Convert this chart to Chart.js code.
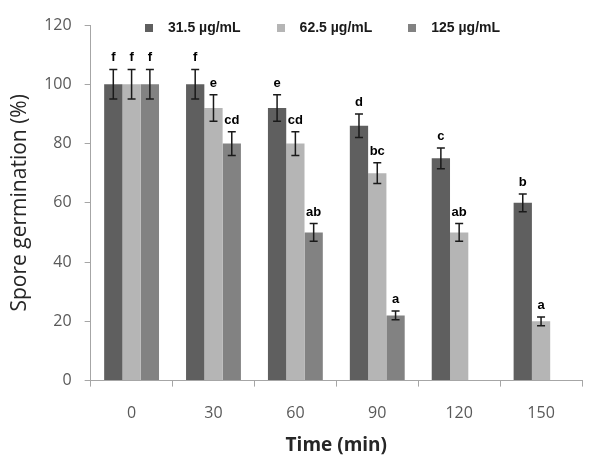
<!DOCTYPE html>
<html>
<head>
<meta charset="utf-8">
<script src="https://cdn.jsdelivr.net/npm/chart.js@4"></script>
<style>
	html, body { margin: 0; padding: 0; background: #fff; }
</style>
</head>
<body>
<canvas id="myChart" width="606" height="475"></canvas>
<script>
"use strict";

// Values
const times = ["0", "30", "60", "90", "120", "150"];
const seriesNames = ["31.5 \u00b5g/mL", "62.5 \u00b5g/mL", "125 \u00b5g/mL"];
const low = [100, 100, 92, 86, 75, 60];
const mid = [100, 92, 80, 70, 50, 20];
const high = [100, 80, 50, 22, null, null];
const lowErr = [5, 5, 4.5, 4, 3.5, 3];
const midErr = [5, 4.5, 4, 3.5, 3, 1.5];
const highErr = [5, 4, 3, 1.5, null, null];
const lowLetters = ["f", "f", "e", "d", "c", "b"];
const midLetters = ["f", "e", "cd", "bc", "ab", "a"];
const highLetters = ["f", "cd", "ab", "a", null, null];
const yTicks = [0, 20, 40, 60, 80, 100, 120];

const colors = ["#5f5f5f", "#b5b5b5", "#828282"];
const axisGrey = "#a6a6a6";
const sans = "'Open Sans', sans-serif";

// little square used as legend marker
function square(color) {
	const c = document.createElement("canvas");
	c.width = 8;
	c.height = 8;
	const g = c.getContext("2d");
	g.fillStyle = color;
	g.fillRect(0, 0, 8, 8);
	return c;
}
const markers = colors.map(square);

// error bars + significance letters
const errorBars = {
	id: "errorBars",
	afterDatasetsDraw(chart) {
		const { ctx } = chart;
		const y = chart.scales.y;
		ctx.save();
		ctx.strokeStyle = "#1a1a1a";
		ctx.lineWidth = 1.5;
		ctx.fillStyle = "#000";
		ctx.font = "bold 13px 'Liberation Sans', Arial, sans-serif";
		ctx.textAlign = "center";
		ctx.textBaseline = "alphabetic";
		chart.data.datasets.forEach((ds, i) => {
			const meta = chart.getDatasetMeta(i);
			meta.data.forEach((bar, j) => {
				const v = ds.data[j];
				if (v == null) return;
				const e = ds.errors[j];
				const top = y.getPixelForValue(v + e);
				const bottom = y.getPixelForValue(v - e);
				ctx.beginPath();
				ctx.moveTo(bar.x, top);
				ctx.lineTo(bar.x, bottom);
				ctx.moveTo(bar.x - 4, top);
				ctx.lineTo(bar.x + 4, top);
				ctx.moveTo(bar.x - 4, bottom);
				ctx.lineTo(bar.x + 4, bottom);
				ctx.stroke();
				if (ds.letters[j]) ctx.fillText(ds.letters[j], bar.x, top - 8);
			});
		});
		ctx.restore();
	},
};

// the original legend sits over the top edge of the plot; move it there
const legendNudge = {
	id: "legendNudge",
	afterLayout(chart) {
		const l = chart.legend;
		if (!l) return;
		l.left += 24;
		l.right += 24;
		l.top -= 7;
		l.bottom += 25;
	},
};

const ctx = document.getElementById("myChart");
// eslint-disable-next-line no-unused-vars
const myChart = new Chart(ctx, {
	type: "bar",
	data: {
		labels: times,
		datasets: [
			{ label: seriesNames[0], data: low, errors: lowErr, letters: lowLetters, backgroundColor: colors[0] },
			{ label: seriesNames[1], data: mid, errors: midErr, letters: midLetters, backgroundColor: colors[1] },
			{ label: seriesNames[2], data: high, errors: highErr, letters: highLetters, backgroundColor: colors[2] },
		],
	},
	options: {
		responsive: false,
		animation: false,
		devicePixelRatio: 1,
		datasets: {
			bar: { categoryPercentage: 0.67, barPercentage: 1, borderWidth: 0 },
		},
		layout: { padding: { top: 0, left: 7, right: 24, bottom: 18 } },
		plugins: {
			tooltip: { enabled: false },
			legend: {
				display: true,
				position: "top",
				fullSize: true,
				maxHeight: 25,
				labels: {
					usePointStyle: true,
					pointStyleWidth: 24,
					boxHeight: 8,
					padding: 28,
					color: "#1a1a1a",
					font: { family: "'Liberation Sans', Arial, sans-serif", size: 14, weight: "bold" },
					generateLabels(chart) {
						const items = Chart.defaults.plugins.legend.labels.generateLabels(chart);
						items.forEach((it, i) => { it.pointStyle = markers[i]; });
						return items;
					},
				},
			},
		},
		scales: {
			x: {
				grid: { display: true, offset: true, drawOnChartArea: false, tickLength: 6, color: axisGrey },
				border: { color: axisGrey, width: 1 },
				ticks: { padding: 17, color: "#595959", font: { family: sans, size: 16 } },
				title: {
					display: true,
					text: "Time (min)",
					color: "#262626",
					font: { family: sans, size: 19, weight: "bold" },
					padding: { top: -5.6, bottom: 0 },
				},
			},
			y: {
				min: yTicks[0],
				max: yTicks[yTicks.length - 1],
				afterBuildTicks(scale) {
					scale.ticks = yTicks.map((v) => ({ value: v }));
				},
				grid: { display: true, drawOnChartArea: false, tickLength: 6, color: axisGrey },
				border: { color: axisGrey, width: 1 },
				ticks: { padding: 13, color: "#595959", font: { family: sans, size: 16 } },
				title: {
					display: true,
					text: "Spore germination (%)",
					color: "#262626",
					font: { family: sans, size: 21 },
					padding: { top: 0, bottom: -1 },
				},
			},
		},
	},
	plugins: [errorBars, legendNudge],
});
</script>
</body>
</html>
